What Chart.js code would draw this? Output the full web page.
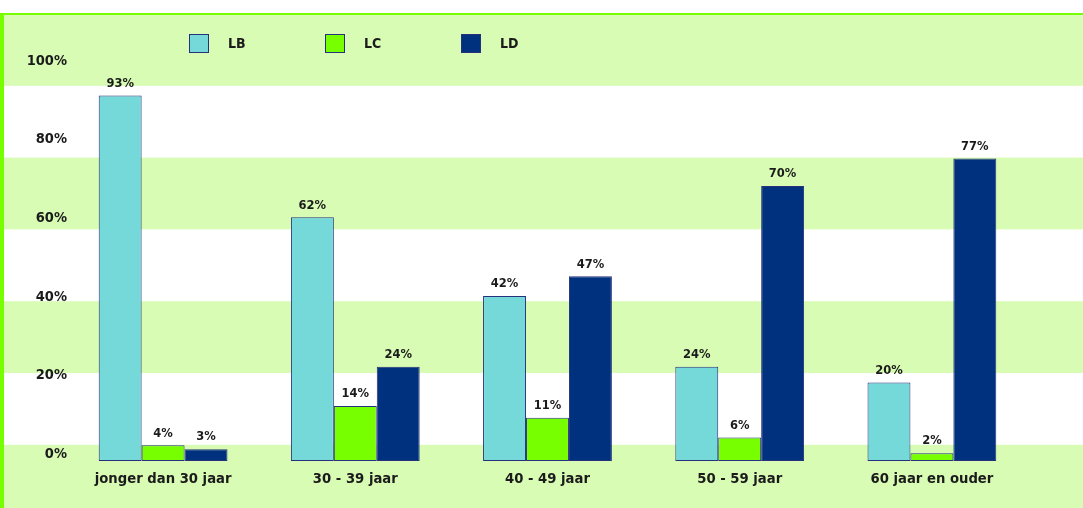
<!DOCTYPE html>
<html>
<head>
<meta charset="utf-8">
<script src="https://cdn.jsdelivr.net/npm/chart.js@4/dist/chart.umd.min.js"></script>
<style>
  html, body { margin: 0; padding: 0; background: #ffffff; }
  #wrap { width: 1083px; height: 508px; position: relative; }
</style>
</head>
<body>
<div id="wrap"><canvas id="chart" width="1083" height="508"></canvas></div>
<script>
// Data
const categories = ['jonger dan 30 jaar', '30 - 39 jaar', '40 - 49 jaar', '50 - 59 jaar', '60 jaar en ouder'];
const seriesNames = ['LB', 'LC', 'LD'];
const lbValues = [93, 62, 42, 24, 20];
const lcValues = [4, 14, 11, 6, 2];
const ldValues = [3, 24, 47, 70, 77];
const yTicks = [0, 20, 40, 60, 80, 100];

const colors = ['#75d9d9', '#77ff00', '#00317f'];
const barBorder = '#26307c';
const paleGreen = '#d8fcb4';
const brightGreen = '#77ff00';
const textColor = '#1b1b1b';
const fontFamily = '"DejaVu Sans", sans-serif';
const condensedFamily = '"DejaVu Sans Condensed", "DejaVu Sans", sans-serif';

// Achtergrond: groene/witte banden en randen
const backdrop = {
    id: 'backdrop',
    beforeDraw(chart) {
        const ctx = chart.ctx;
        const w = chart.width, h = chart.height;
        ctx.save();
        ctx.fillStyle = '#ffffff';
        ctx.fillRect(0, 0, w, h);
        const top = 14;
        const band = 71.8;
        let i = 0;
        for (let y = top; y < h; y += band, i++) {
            ctx.fillStyle = i % 2 === 0 ? paleGreen : '#ffffff';
            ctx.fillRect(0, y, w, band + 1);
        }
        ctx.fillStyle = brightGreen;
        ctx.fillRect(0, 13, w, 2);
        ctx.fillRect(0, 13, 4, h - 13);
        ctx.restore();
    }
};

// Legenda
const legendBoxes = {
    id: 'legendBoxes',
    afterDraw(chart) {
        const ctx = chart.ctx;
        ctx.save();
        chart.data.datasets.forEach((ds, i) => {
            const x = 189 + i * 136;
            const y = 34;
            ctx.fillStyle = ds.backgroundColor;
            ctx.fillRect(x, y, 20, 19);
            ctx.strokeStyle = barBorder;
            ctx.lineWidth = 1;
            ctx.strokeRect(x + 0.5, y + 0.5, 19, 18);
            ctx.fillStyle = textColor;
            ctx.font = 'bold 14px ' + condensedFamily;
            ctx.textAlign = 'left';
            ctx.textBaseline = 'middle';
            ctx.fillText(ds.label, x + 39, y + 10);
        });
        ctx.restore();
    }
};

// Waardelabels boven de staven
const valueLabels = {
    id: 'valueLabels',
    afterDatasetsDraw(chart) {
        const ctx = chart.ctx;
        ctx.save();
        ctx.fillStyle = textColor;
        ctx.font = 'bold 11.5px ' + fontFamily;
        ctx.textAlign = 'center';
        ctx.textBaseline = 'bottom';
        chart.data.datasets.forEach((ds, i) => {
            const meta = chart.getDatasetMeta(i);
            meta.data.forEach((bar, j) => {
                ctx.fillText(ds.data[j] + '%', bar.x, bar.y - 6);
            });
        });
        ctx.restore();
    }
};

const allValues = [lbValues, lcValues, ldValues];

new Chart(document.getElementById('chart'), {
    type: 'bar',
    data: {
        labels: categories,
        datasets: seriesNames.map((name, i) => ({
            label: name,
            data: allValues[i],
            backgroundColor: colors[i],
            borderColor: barBorder,
            borderWidth: 1,
            borderSkipped: false,
            categoryPercentage: 0.67,
            barPercentage: 1
        }))
    },
    options: {
        responsive: false,
        animation: false,
        layout: { padding: { top: 68, right: 55, bottom: 0, left: 0 } },
        plugins: {
            legend: { display: false },
            tooltip: { enabled: false }
        },
        scales: {
            x: {
                grid: { display: false, drawTicks: false },
                border: { display: false },
                ticks: {
                    color: textColor,
                    font: { family: condensedFamily, size: 14.7, weight: 'bold' },
                    padding: 9
                },
                afterFit(s) { s.height = 47; }
            },
            y: {
                min: 0,
                max: 100,
                afterBuildTicks(s) { s.ticks = yTicks.map(v => ({ value: v })); },
                grid: { display: false, drawTicks: false },
                border: { display: false },
                ticks: {
                    color: textColor,
                    font: { family: condensedFamily, size: 14.5, weight: 'bold' },
                    padding: 0,
                    labelOffset: -7,
                    callback: v => v + '%'
                },
                afterFit(s) { s.width = 67; }
            }
        }
    },
    plugins: [backdrop, legendBoxes, valueLabels]
});
</script>
</body>
</html>
